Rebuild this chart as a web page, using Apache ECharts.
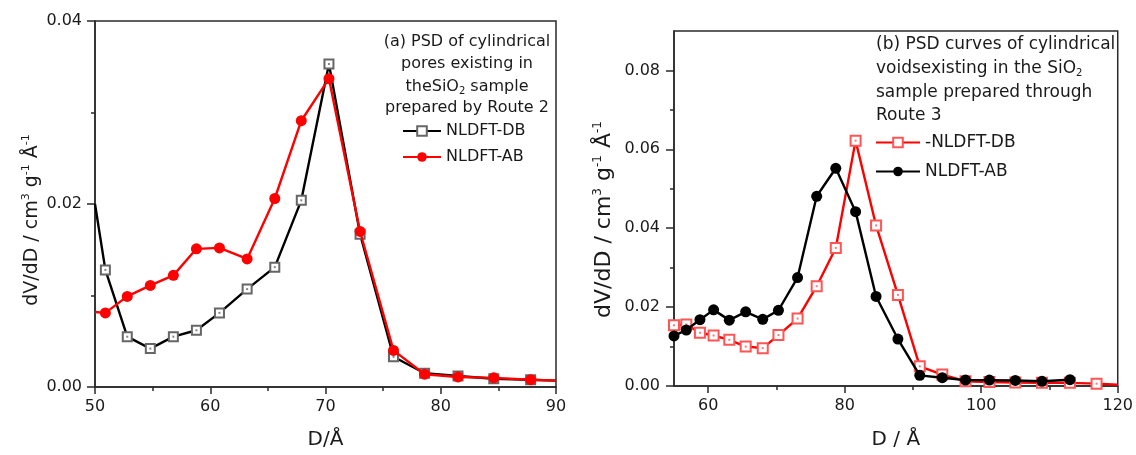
<!DOCTYPE html>
<html>
<head>
<meta charset="utf-8">
<script src="https://cdn.jsdelivr.net/npm/echarts@6.0.0/dist/echarts.min.js"></script>
<style>
html, body { margin: 0; padding: 0; background: #fff; }
#draw { width: 1136px; height: 455px; }
</style>
</head>
<body>
<div id="draw"></div>
<script>
// panel (a): route 2
var leftD  = [50, 50.9, 52.8, 54.8, 56.8, 58.8, 60.8, 63.2, 65.6, 67.9, 70.3, 73.0, 75.9, 78.6, 81.5, 84.6, 87.8, 90];
var leftDB = [0.0200, 0.0128, 0.0055, 0.0042, 0.0055, 0.0062, 0.0081, 0.0107, 0.0131, 0.0204, 0.0353, 0.0167, 0.0033, 0.0015, 0.0012, 0.0009, 0.0008, 0.0007];
var leftAB = [0.0082, 0.0081, 0.0099, 0.0111, 0.0122, 0.0151, 0.0152, 0.0140, 0.0206, 0.0291, 0.0337, 0.0170, 0.0040, 0.0014, 0.0011, 0.0010, 0.0008, 0.0007];

// panel (b): route 3
var rightD  = [55, 56.8, 58.8, 60.8, 63.1, 65.5, 68.0, 70.3, 73.1, 75.9, 78.7, 81.6, 84.6, 87.8, 91.0, 94.3, 97.7, 101.2, 105.0, 108.9, 113.0, 116.9, 120];
var rightDB = [0.0154, 0.0156, 0.0135, 0.0128, 0.0117, 0.0100, 0.0096, 0.0129, 0.0171, 0.0253, 0.0350, 0.0622, 0.0407, 0.0231, 0.0050, 0.0029, 0.0012, 0.0010, 0.0009, 0.0008, 0.0008, 0.0006, 0.0003];
var rightAB = [0.0127, 0.0142, 0.0168, 0.0193, 0.0167, 0.0188, 0.0169, 0.0192, 0.0275, 0.0481, 0.0552, 0.0442, 0.0227, 0.0119, 0.0027, 0.0021, 0.0015, 0.0015, 0.0014, 0.0012, 0.0016];

var rightTicksX = [60, 80, 100, 120];
var rightMinorX = [70, 90, 110];
var rightTicksY = [0, 0.02, 0.04, 0.06, 0.08];
var rightMinorY = [0.01, 0.03, 0.05, 0.07];

var FONT = 'DejaVu Sans';
var INK = '#1a1a1a';

// join x and y, points in "hide" get no marker (line ends at the frame)
function pairs(xs, ys, hide) {
	return ys.map(function(y, i) {
		var p = { value : [ xs[i], y ] };
		if (hide.indexOf(i) >= 0) {
			p.symbol = 'none';
		}
		return p;
	});
}
function dots(xs, ys, hide) {
	return pairs(xs, ys, hide).filter(function(p) {
		return !p.symbol;
	});
}
function txt(x, y, s, size, align) {
	return { type : 'text', x : x, y : y, silent : true, style : {
		text : s, font : size + 'px ' + FONT, fill : INK, textAlign : align, textVerticalAlign : 'middle'
	} };
}
function subTxt(x, y, s, size, align) {
	return { type : 'text', x : x, y : y, silent : true, style : {
		text : s, fill : INK, font : size + 'px ' + FONT, textAlign : align, textVerticalAlign : 'middle',
		rich : {
			n : { fontSize : size, fontFamily : FONT, color : INK, lineHeight : size + 2, textBorderWidth : 0 },
			sub : { fontSize : 10, fontFamily : FONT, color : INK, lineHeight : 10, verticalAlign : 'bottom', textBorderWidth : 0 }
		}
	} };
}

var axisLine = { lineStyle : { color : '#2a2a2a', width : 1.5 } };
var tickLine = { color : '#2a2a2a', width : 1.5 };
var labelStyle = { color : INK, fontSize : 16, fontFamily : FONT };
var yName = '{n|dV/dD / cm}{sup|3}{n| g}{sup|-1}{n| Å}{sup|-1}';

var myChart = echarts.init(document.getElementById('draw'));
var option = {
	animation : false,
	grid : [ {
		left : 95, top : 21, width : 461, height : 372,
		show : true, borderColor : '#2a2a2a', borderWidth : 1.5
	}, {
		left : 674, top : 31, width : 444, height : 359,
		show : true, borderColor : '#2a2a2a', borderWidth : 1.5
	} ],
	xAxis : [ {
		gridIndex : 0, type : 'value', position : 'bottom', min : 50, max : 90, interval : 10,
		name : 'D/Å', nameLocation : 'middle', nameGap : 43,
		nameTextStyle : { fontSize : 20, fontFamily : FONT, color : INK },
		axisLine : axisLine,
		axisTick : { length : 7, lineStyle : tickLine },
		minorTick : { show : true, splitNumber : 2, length : 4, lineStyle : tickLine },
		axisLabel : Object.assign({ margin : 12 }, labelStyle),
		splitLine : { show : false }
	}, {
		gridIndex : 1, type : 'value', position : 'bottom', min : 55, max : 120,
		name : 'D / Å', nameLocation : 'middle', nameGap : 44,
		nameTextStyle : { fontSize : 20, fontFamily : FONT, color : INK },
		axisLine : axisLine,
		axisTick : { length : 7, customValues : rightTicksX, lineStyle : tickLine },
		axisLabel : Object.assign({ margin : 12, customValues : rightTicksX }, labelStyle),
		splitLine : { show : false }
	}, {
		// minor ticks only
		gridIndex : 1, type : 'value', position : 'bottom', min : 55, max : 120,
		axisLine : { show : false },
		axisTick : { length : 4, customValues : rightMinorX, lineStyle : tickLine },
		axisLabel : { show : false },
		splitLine : { show : false }
	} ],
	yAxis : [ {
		gridIndex : 0, type : 'value', position : 'left', min : 0, max : 0.04, interval : 0.02,
		name : yName, nameLocation : 'middle', nameGap : 52,
		nameTextStyle : {
			padding : [ 0, 32, 0, 0 ],
			rich : {
				n : { fontSize : 19, fontFamily : FONT, color : INK, lineHeight : 22 },
				sup : { fontSize : 11, fontFamily : FONT, color : INK, lineHeight : 11, verticalAlign : 'top' }
			}
		},
		axisLine : axisLine,
		axisTick : { length : 8, lineStyle : tickLine },
		minorTick : { show : true, splitNumber : 2, length : 4, lineStyle : tickLine },
		axisLabel : Object.assign({ margin : 13, formatter : function(v) { return v.toFixed(2); } }, labelStyle),
		splitLine : { show : false }
	}, {
		gridIndex : 1, type : 'value', position : 'left', min : 0, max : 0.09,
		name : yName, nameLocation : 'middle', nameGap : 57,
		nameTextStyle : {
			padding : [ 0, 22, 0, 0 ],
			rich : {
				n : { fontSize : 22, fontFamily : FONT, color : INK, lineHeight : 25 },
				sup : { fontSize : 12, fontFamily : FONT, color : INK, lineHeight : 12, verticalAlign : 'top' }
			}
		},
		axisLine : axisLine,
		axisTick : { length : 8, customValues : rightTicksY, lineStyle : tickLine },
		axisLabel : Object.assign({ margin : 14, customValues : rightTicksY, formatter : function(v) { return v.toFixed(2); } }, labelStyle),
		splitLine : { show : false }
	}, {
		// minor ticks only
		gridIndex : 1, type : 'value', position : 'left', min : 0, max : 0.09,
		axisLine : { show : false },
		axisTick : { length : 4, customValues : rightMinorY, lineStyle : tickLine },
		axisLabel : { show : false },
		splitLine : { show : false }
	} ],
	legend : [ {
		data : [ 'NLDFT-DB', 'NLDFT-AB' ],
		orient : 'vertical', left : 402, top : 123, padding : 0,
		itemWidth : 38, itemHeight : 12, itemGap : 10,
		textStyle : { fontSize : 16, fontFamily : FONT, color : INK }
	}, {
		data : [ '-NLDFT-DB', 'NLDFT-AB ' ],
		orient : 'vertical', left : 875, top : 134, padding : 0,
		itemWidth : 44, itemHeight : 12, itemGap : 12,
		textStyle : { fontSize : 17, fontFamily : FONT, color : INK }
	} ],
	graphic : [
		txt(467, 42, '(a) PSD of cylindrical', 16, 'center'),
		txt(467, 64, 'pores existing in', 16, 'center'),
		subTxt(467, 87, '{n|theSiO}{sub|2}{n| sample}', 16, 'center'),
		txt(467, 108, 'prepared by Route 2', 16, 'center'),
		txt(876, 45, '(b) PSD curves of cylindrical', 17, 'left'),
		subTxt(876, 69, '{n|voidsexisting in the SiO}{sub|2}', 17, 'left'),
		txt(876, 93, 'sample prepared through', 17, 'left'),
		txt(876, 116, 'Route 3', 17, 'left')
	],
	series : [ {
		name : 'NLDFT-DB', type : 'line', xAxisIndex : 0, yAxisIndex : 0,
		data : pairs(leftD, leftDB, [ 0, leftD.length - 1 ]),
		symbol : 'emptyRect', symbolSize : 9, z : 3,
		lineStyle : { color : '#000', width : 2.4 },
		itemStyle : { color : '#666', borderColor : '#666', borderWidth : 1.2 }
	}, {
		name : 'NLDFT-AB', type : 'line', xAxisIndex : 0, yAxisIndex : 0,
		data : pairs(leftD, leftAB, [ 0, leftD.length - 1 ]),
		symbol : 'circle', symbolSize : 11, z : 4,
		lineStyle : { color : '#f00', width : 2.4 },
		itemStyle : { color : '#f00' }
	}, {
		name : 'dots-a', type : 'scatter', xAxisIndex : 0, yAxisIndex : 0, silent : true,
		data : dots(leftD, leftDB, [ 0, leftD.length - 1 ]),
		symbol : 'rect', symbolSize : 2, z : 3,
		itemStyle : { color : '#666' }
	}, {
		name : '-NLDFT-DB', type : 'line', xAxisIndex : 1, yAxisIndex : 1,
		data : pairs(rightD, rightDB, [ rightD.length - 1 ]),
		symbol : 'emptyRect', symbolSize : 10, z : 3,
		lineStyle : { color : '#f00', width : 2.4 },
		itemStyle : { color : '#f55', borderColor : '#f55', borderWidth : 1.2 }
	}, {
		name : 'NLDFT-AB ', type : 'line', xAxisIndex : 1, yAxisIndex : 1,
		data : pairs(rightD, rightAB, []),
		symbol : 'circle', symbolSize : 11, z : 4,
		lineStyle : { color : '#000', width : 2.4 },
		itemStyle : { color : '#000' }
	}, {
		name : 'dots-b', type : 'scatter', xAxisIndex : 1, yAxisIndex : 1, silent : true,
		data : dots(rightD, rightDB, [ rightD.length - 1 ]),
		symbol : 'rect', symbolSize : 2, z : 3,
		itemStyle : { color : '#f55' }
	} ]
};
myChart.setOption(option);
</script>
</body>
</html>
